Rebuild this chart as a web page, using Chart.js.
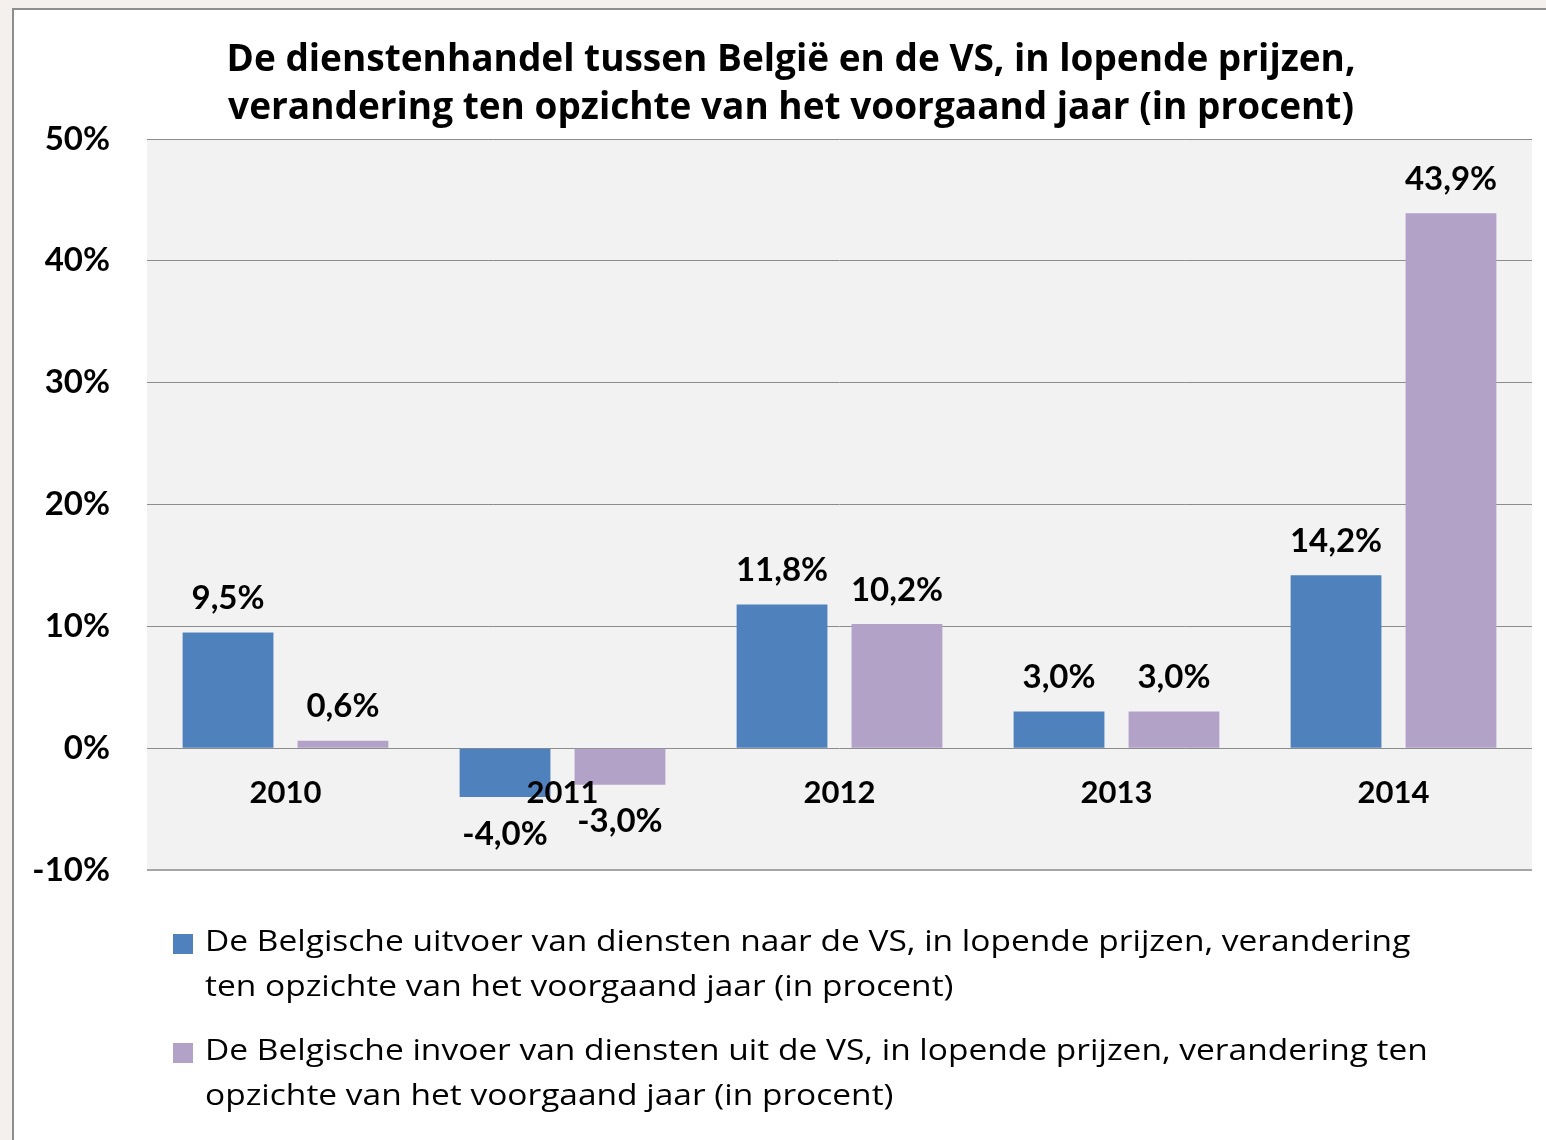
<!DOCTYPE html>
<html>
<head>
<meta charset="utf-8">
<script src="https://cdn.jsdelivr.net/npm/chart.js@4.4.0/dist/chart.umd.min.js"></script>
<style>
html, body { margin: 0; padding: 0; background: #f3f0ee; overflow: hidden; width: 1546px; height: 1140px; }
#frame { position: absolute; left: 12px; top: 8px; width: 1700px; height: 1300px; background: #fff; border: 2px solid #8e8e8e; }
#wrap { position: absolute; left: 0; top: 0; width: 1546px; height: 1140px; }
</style>
</head>
<body>
<div id="frame"></div>
<div id="wrap"><canvas id="chart"></canvas></div>
<script>
const years = ['2010', '2011', '2012', '2013', '2014'];
const exportLabel = 'De Belgische uitvoer van diensten naar de VS, in lopende prijzen, verandering ten opzichte van het voorgaand jaar (in procent)';
const importLabel = 'De Belgische invoer van diensten uit de VS, in lopende prijzen, verandering ten opzichte van het voorgaand jaar (in procent)';
const exportValues = [9.5, -4.0, 11.8, 3.0, 14.2];
const importValues = [0.6, -3.0, 10.2, 3.0, 43.9];
const titleLines = [
    'De dienstenhandel tussen België en de VS, in lopende prijzen,',
    'verandering ten opzichte van het voorgaand jaar (in procent)'
];
const yTicks = [-10, 0, 10, 20, 30, 40, 50];

function fmt(v) {
    return v.toFixed(1).replace('.', ',') + '%';
}

// grey plot background
const plotBg = {
    id: 'plotBg',
    beforeDraw(chart) {
        const a = chart.chartArea;
        const ctx = chart.ctx;
        ctx.save();
        ctx.fillStyle = '#f2f2f2';
        ctx.fillRect(a.left, a.top, a.right - a.left, a.bottom - a.top);
        ctx.restore();
    }
};

// two-line title, centred a bit right of the canvas middle
const chartTitle = {
    id: 'chartTitle',
    afterDraw(chart) {
        const ctx = chart.ctx;
        ctx.save();
        ctx.font = 'bold 37px "Open Sans"';
        ctx.fillStyle = '#000';
        ctx.textAlign = 'center';
        ctx.textBaseline = 'middle';
        titleLines.forEach((l, i) => ctx.fillText(l, 791, 60 + i * 48));
        ctx.restore();
    }
};

// value labels above / below the bars
const barLabels = {
    id: 'barLabels',
    afterDatasetsDraw(chart) {
        const ctx = chart.ctx;
        ctx.save();
        ctx.font = 'bold 33px Lato';
        ctx.fillStyle = '#000';
        ctx.textAlign = 'center';
        ctx.textBaseline = 'middle';
        chart.data.datasets.forEach((ds, i) => {
            chart.getDatasetMeta(i).data.forEach((bar, j) => {
                const v = ds.data[j];
                const y = v >= 0 ? bar.y - 34 : bar.y + 37;
                ctx.fillText(fmt(v), bar.x, y);
            });
        });
        ctx.restore();
    }
};

function wrapText(ctx, text, maxWidth, sx) {
    const words = text.split(' ');
    const lines = [];
    let line = '';
    for (const w of words) {
        const test = line ? line + ' ' + w : w;
        if (ctx.measureText(test).width * sx > maxWidth && line) {
            lines.push(line);
            line = w;
        } else {
            line = test;
        }
    }
    if (line)
        lines.push(line);
    return lines;
}

// legend below the plot, with wrapped labels (text a little stretched, like the original)
const wrappedLegend = {
    id: 'wrappedLegend',
    afterDraw(chart) {
        const ctx = chart.ctx;
        const a = chart.chartArea;
        const sx = 1.155;
        ctx.save();
        ctx.font = '29px "Open Sans"';
        ctx.textAlign = 'left';
        ctx.textBaseline = 'middle';
        chart.data.datasets.forEach((ds, i) => {
            const y = a.bottom + 73 + i * 109;
            ctx.fillStyle = ds.backgroundColor;
            ctx.fillRect(a.left + 26, y - 9, 20, 20);
            ctx.fillStyle = '#000';
            const lines = wrapText(ctx, ds.label, 1235, sx);
            lines.forEach((l, k) => {
                ctx.save();
                ctx.translate(a.left + 58, y + k * 45);
                ctx.scale(sx, 1);
                ctx.fillText(l, 0, 0);
                ctx.restore();
            });
        });
        ctx.restore();
    }
};

new Chart(document.getElementById('chart'), {
    type: 'bar',
    data: {
        labels: years,
        datasets: [
            {
                label: exportLabel,
                data: exportValues,
                backgroundColor: '#4f81bd',
                categoryPercentage: 0.83,
                barPercentage: 0.79
            },
            {
                label: importLabel,
                data: importValues,
                backgroundColor: '#b3a2c7',
                categoryPercentage: 0.83,
                barPercentage: 0.79
            }
        ]
    },
    options: {
        responsive: true,
        maintainAspectRatio: false,
        animation: false,
        devicePixelRatio: 1,
        layout: { padding: { left: 0, right: 14, top: 139, bottom: 270 } },
        plugins: {
            legend: { display: false },
            tooltip: { enabled: false },
            title: { display: false }
        },
        scales: {
            x: {
                position: { y: 0 },
                grid: { display: false },
                border: { display: false },
                ticks: {
                    z: 1,
                    color: '#000',
                    font: { family: 'Lato', weight: 'bold', size: 31 },
                    padding: 18,
                    maxRotation: 0
                }
            },
            y: {
                min: -10,
                max: 50,
                afterBuildTicks: (s) => { s.ticks = yTicks.map(v => ({ value: v })); },
                afterFit: (s) => { s.width = 147; },
                border: { display: false },
                grid: {
                    drawTicks: false,
                    color: (c) => c.tick && c.tick.value === -10 ? '#a6a6a6' : '#8c8c8c',
                    lineWidth: (c) => c.tick && c.tick.value === -10 ? 2 : 1
                },
                ticks: {
                    color: '#000',
                    padding: 37,
                    font: { family: 'Lato', weight: 'bold', size: 33 },
                    callback: (v) => v + '%'
                }
            }
        }
    },
    plugins: [plotBg, chartTitle, barLabels, wrappedLegend]
});
</script>
</body>
</html>
